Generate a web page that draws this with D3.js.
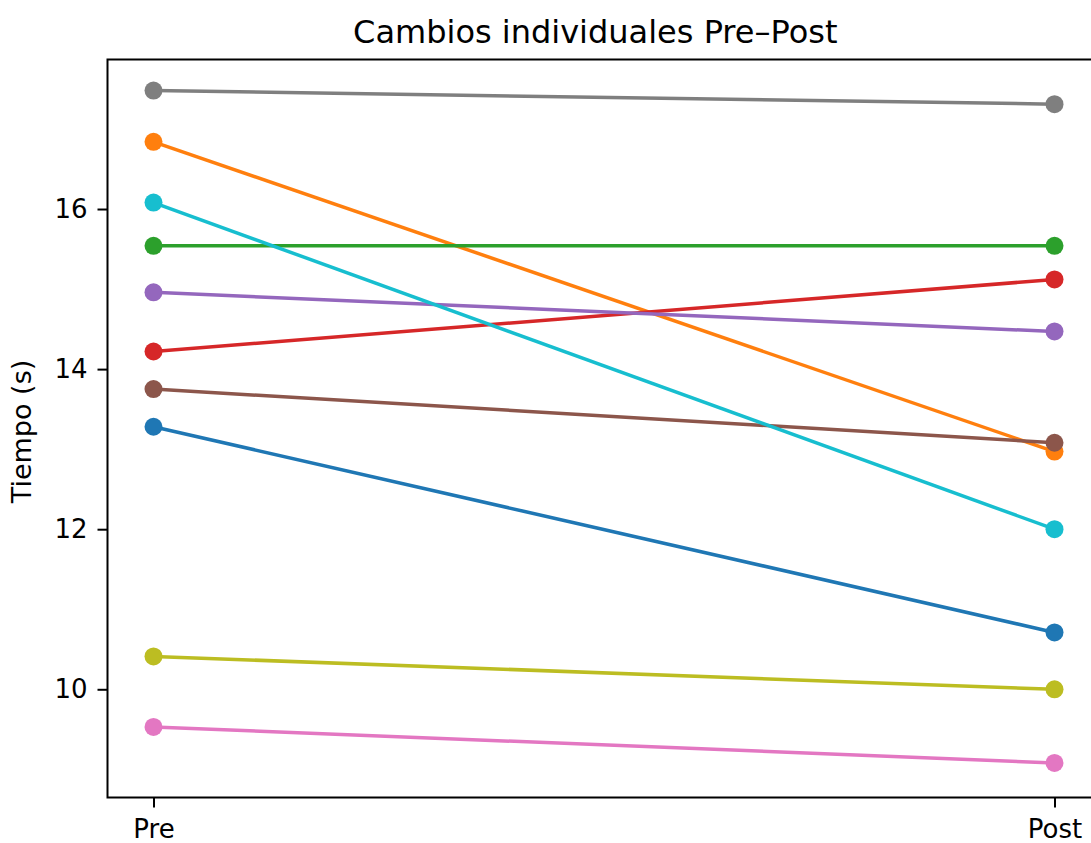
<!DOCTYPE html>
<html><head><meta charset="utf-8">
<script src="https://cdn.jsdelivr.net/npm/d3@7"></script>
<style>body{margin:0;background:#fff}svg{display:block}text{font-family:"DejaVu Sans",sans-serif;fill:#000}</style>
</head><body>
<script>
const conditions = ["Pre", "Post"];
const subjects = ["S1","S2","S3","S4","S5","S6","S7","S8","S9","S10"];
const preValues  = [13.28, 16.84, 15.54, 14.22, 14.96, 13.75, 9.53, 17.48, 10.41, 16.08];
const postValues = [10.71, 12.97, 15.54, 15.12, 14.47, 13.08, 9.08, 17.31, 10.00, 12.00];
const colors = ["#1f77b4","#ff7f0e","#2ca02c","#d62728","#9467bd","#8c564b","#e377c2","#7f7f7f","#bcbd22","#17becf"];
const yTicks = [10, 12, 14, 16];

const W = 1091, H = 843;
const m = {left:107.5, top:59.5, right:1099, bottom:797.5};
const svg = d3.select("body").append("svg").attr("width",W).attr("height",H);

const x = d3.scalePoint().domain(conditions).range([153.5, 1054.5]);
const y = d3.scaleLinear().domain([8.648, 17.868]).range([m.bottom, m.top]);

const data = subjects.map((s,i)=>({s, c:colors[i], v:[preValues[i], postValues[i]]}));

const plot = svg.append("g");
const line = d3.line().x((d,i)=>x(conditions[i])).y(d=>y(d));
data.forEach(d=>{
  const g = plot.append("g");
  g.append("path").attr("d", line(d.v)).attr("fill","none").attr("stroke",d.c).attr("stroke-width",3.5);
  g.selectAll("circle").data(d.v).join("circle")
    .attr("cx",(v,i)=>x(conditions[i])).attr("cy",v=>y(v)).attr("r",9).attr("fill",d.c);
});

// spines
svg.append("rect").attr("x",m.left).attr("y",m.top).attr("width",m.right-m.left).attr("height",m.bottom-m.top)
  .attr("fill","none").attr("stroke","#000").attr("stroke-width",2);

const yAxis = svg.append("g").attr("transform",`translate(${m.left},0)`)
  .call(d3.axisLeft(y).tickValues(yTicks).tickSize(10).tickPadding(10).tickFormat(d3.format("d")));
yAxis.select(".domain").remove();
yAxis.selectAll("line").attr("stroke","#000").attr("stroke-width",2);
yAxis.selectAll("text").style("font-size","26px");

const xAxis = svg.append("g").attr("transform",`translate(0,${m.bottom})`)
  .call(d3.axisBottom(x).tickSize(10).tickPadding(12));
xAxis.select(".domain").remove();
xAxis.selectAll("line").attr("stroke","#000").attr("stroke-width",2);
xAxis.selectAll("text").style("font-size","26px");

svg.append("text").attr("x",(m.left+m.right)/2 - 8).attr("y",43).attr("text-anchor","middle")
  .style("font-size","32px").text("Cambios individuales Pre–Post");
svg.append("text").attr("transform",`translate(31,${(m.top+m.bottom)/2 + 3}) rotate(-90)`).attr("text-anchor","middle")
  .style("font-size","27px").text("Tiempo (s)");
</script>
</body></html>
